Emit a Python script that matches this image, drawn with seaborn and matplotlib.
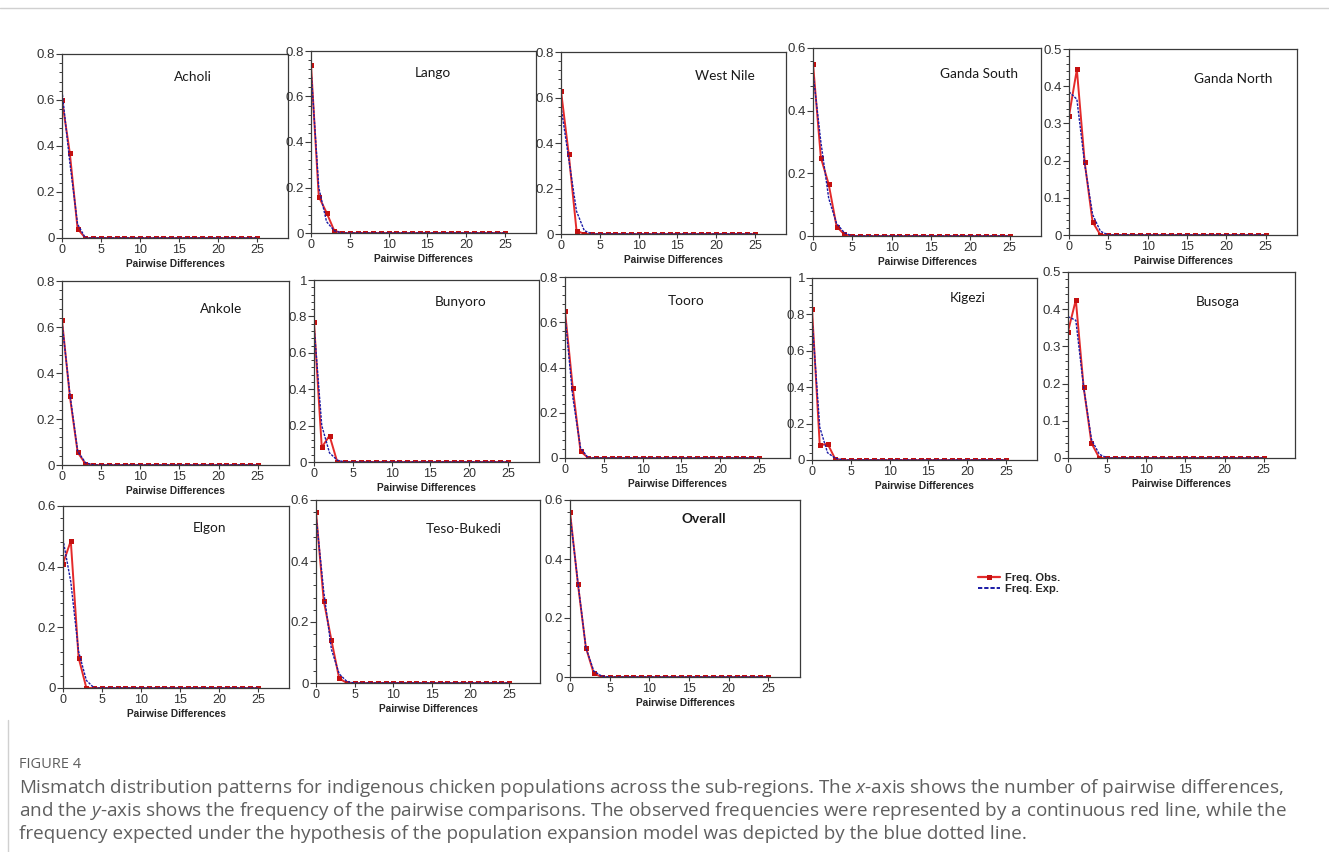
import numpy as np
import pandas as pd
import seaborn as sns
import matplotlib.pyplot as plt
from matplotlib.ticker import MultipleLocator, AutoMinorLocator, FuncFormatter
from matplotlib.lines import Line2D

sns.set_style('white')
plt.rcParams['font.family'] = ['Liberation Sans', 'DejaVu Sans']
plt.rcParams['mathtext.fontset'] = 'custom'
plt.rcParams['mathtext.rm'] = 'Open Sans'
plt.rcParams['mathtext.it'] = 'Open Sans:italic'

W, H = 1329, 852

# pairwise differences 0..25
diffs = list(range(26))

# observed / expected frequencies (the rest are 0)
acholi_obs = [0.60, 0.37, 0.04, 0.0]
acholi_exp = [0.64, 0.33, 0.06, 0.0]
lango_obs = [0.74, 0.16, 0.09, 0.01, 0.0]
lango_exp = [0.72, 0.20, 0.05, 0.01, 0.0]
westnile_obs = [0.63, 0.35, 0.015, 0.0]
westnile_exp = [0.56, 0.33, 0.10, 0.015, 0.0]
gandas_obs = [0.55, 0.25, 0.165, 0.03, 0.005, 0.0]
gandas_exp = [0.52, 0.30, 0.12, 0.04, 0.01, 0.0]
gandan_obs = [0.32, 0.445, 0.195, 0.035, 0.0]
gandan_exp = [0.385, 0.365, 0.19, 0.055, 0.01, 0.0]
ankole_obs = [0.63, 0.30, 0.055, 0.005, 0.0]
ankole_exp = [0.62, 0.31, 0.06, 0.01, 0.0]
bunyoro_obs = [0.77, 0.08, 0.145, 0.0]
bunyoro_exp = [0.75, 0.20, 0.05, 0.01, 0.0]
tooro_obs = [0.65, 0.31, 0.03, 0.0]
tooro_exp = [0.63, 0.27, 0.045, 0.0]
kigezi_obs = [0.83, 0.08, 0.09, 0.005, 0.0]
kigezi_exp = [0.78, 0.18, 0.04, 0.01, 0.0]
busoga_obs = [0.34, 0.425, 0.19, 0.04, 0.0]
busoga_exp = [0.38, 0.37, 0.19, 0.05, 0.01, 0.0]
elgon_obs = [0.41, 0.485, 0.10, 0.0]
elgon_exp = [0.49, 0.35, 0.12, 0.025, 0.0]
teso_obs = [0.56, 0.27, 0.14, 0.015, 0.0]
teso_exp = [0.55, 0.30, 0.11, 0.03, 0.005, 0.0]
overall_obs = [0.56, 0.315, 0.10, 0.012, 0.0]
overall_exp = [0.55, 0.32, 0.10, 0.02, 0.003, 0.0]

names = ['Acholi', 'Lango', 'West Nile', 'Ganda South', 'Ganda North',
         'Ankole', 'Bunyoro', 'Tooro', 'Kigezi', 'Busoga',
         'Elgon', 'Teso-Bukedi', 'Overall']
obs_all = [acholi_obs, lango_obs, westnile_obs, gandas_obs, gandan_obs,
           ankole_obs, bunyoro_obs, tooro_obs, kigezi_obs, busoga_obs,
           elgon_obs, teso_obs, overall_obs]
exp_all = [acholi_exp, lango_exp, westnile_exp, gandas_exp, gandan_exp,
           ankole_exp, bunyoro_exp, tooro_exp, kigezi_exp, busoga_exp,
           elgon_exp, teso_exp, overall_exp]
ymax_all = [0.8, 0.8, 0.8, 0.6, 0.5, 0.8, 1.0, 0.8, 1.0, 0.5, 0.6, 0.6, 0.6]

# axes boxes in pixels: left, top, right, bottom
boxes = [(62, 54, 288, 238), (311, 51, 536, 233), (561, 52, 786, 234),
         (813, 48, 1041, 236), (1069, 49, 1297, 235),
         (62, 281, 289, 465), (314, 280, 539, 462), (565, 277, 790, 458),
         (812, 278, 1037, 460), (1068, 272, 1295, 458),
         (63, 506, 289, 688), (316, 500, 540, 683), (570, 500, 800, 677)]
title_pos = [(0.58, 0.875), (0.54, 0.88), (0.73, 0.87), (0.73, 0.86), (0.72, 0.84),
             (0.70, 0.85), (0.65, 0.88), (0.54, 0.87), (0.69, 0.89), (0.66, 0.84),
             (0.65, 0.88), (0.66, 0.84), (0.58, 0.89)]

RED = '#e42a2a'
DARKRED = '#c41010'
BLUE = '#1a1aa6'
FRAME = '#3a3a3a'

fig = plt.figure(figsize=(W / 100, H / 100), dpi=100)

for i in range(len(names)):
    l, t, r, b = boxes[i]
    ax = fig.add_axes([l / W, 1 - b / H, (r - l) / W, (b - t) / H])
    obs = obs_all[i] + [0.0] * (len(diffs) - len(obs_all[i]))
    exp = exp_all[i] + [0.0] * (len(diffs) - len(exp_all[i]))
    df = pd.DataFrame({'diff': diffs, 'obs': obs, 'exp': exp})

    sns.lineplot(data=df, x='diff', y='obs', ax=ax, color=RED, lw=1.4,
                 marker='s', markersize=3.6, markeredgewidth=0,
                 markerfacecolor=DARKRED)
    sns.lineplot(data=df, x='diff', y='exp', ax=ax, color=BLUE, lw=1.0,
                 linestyle=(0, (1.8, 0.9)))

    ymax = ymax_all[i]
    ax.set_xlim(0, 29)
    ax.set_ylim(0, ymax)
    ax.set_xticks([0, 5, 10, 15, 20, 25])
    ax.yaxis.set_major_locator(MultipleLocator(0.1 if ymax == 0.5 else 0.2))
    ax.yaxis.set_minor_locator(AutoMinorLocator(5))
    ax.yaxis.set_major_formatter(FuncFormatter(lambda v, p: f'{v:g}'))
    ax.tick_params(axis='y', which='major', direction='out', length=4, width=0.8,
                   left=True, color=FRAME, labelsize=9.5, labelcolor='#333333', pad=1)
    ax.tick_params(axis='y', which='minor', direction='out', length=2.5, width=0.7,
                   left=True, color=FRAME)
    ax.tick_params(axis='x', which='major', direction='out', length=3, width=0.8,
                   bottom=True, color=FRAME, labelsize=9, labelcolor='#333333', pad=1.5)
    for s in ax.spines.values():
        s.set_color(FRAME)
        s.set_linewidth(0.9)
    ax.set_xlabel('Pairwise Differences', fontsize=7.3, fontweight='bold',
                  family=['Liberation Sans Narrow', 'Liberation Sans'], labelpad=2)
    ax.set_ylabel('')

    tx, ty = title_pos[i]
    ax.text(tx, ty, names[i], transform=ax.transAxes, ha='center', va='center',
            fontsize=9.8, family='Lato', color='#1a1a1a',
            fontweight='bold' if names[i] == 'Overall' else 'normal')

# legend
handles = [Line2D([], [], color=RED, lw=1.6, marker='s', markersize=3.6,
                  markeredgewidth=0, markerfacecolor=DARKRED, markevery=[0]),
           Line2D([], [], color=BLUE, lw=1.4, linestyle=(0, (2.2, 1.0)))]
fig.legend(handles, ['Freq. Obs.', 'Freq. Exp.'], loc='upper left',
           bbox_to_anchor=(972 / W, 1 - 567 / H), frameon=False,
           prop={'size': 8, 'weight': 'bold'}, handlelength=2.0,
           handletextpad=0.5, labelspacing=0.15, borderpad=0)

# page rules
fig.add_artist(Line2D([0, 1], [1 - 8 / H, 1 - 8 / H], color='#d0d0d0', lw=1))
fig.add_artist(Line2D([8 / W, 8 / W], [0, 1 - 720 / H], color='#d0d0d0', lw=1))

# caption
cap = dict(family='Open Sans', color='#5f5f5f', ha='left', va='center')
fig.text(19 / W, 1 - 765 / H, 'FIGURE 4', fontsize=10.5, **cap)
lines = ['Mismatch distribution patterns for indigenous chicken populations across the sub-regions. '
         'The $x$-axis shows the number of pairwise differences,',
         'and the $y$-axis shows the frequency of the pairwise comparisons. The observed frequencies '
         'were represented by a continuous red line, while the',
         'frequency expected under the hypothesis of the population expansion model was depicted '
         'by the blue dotted line.']
for k, txt in enumerate(lines):
    fig.text(19 / W, 1 - (788 + 23 * k) / H, txt, fontsize=13.6, **cap)

fig.savefig('out.png', dpi=100)
